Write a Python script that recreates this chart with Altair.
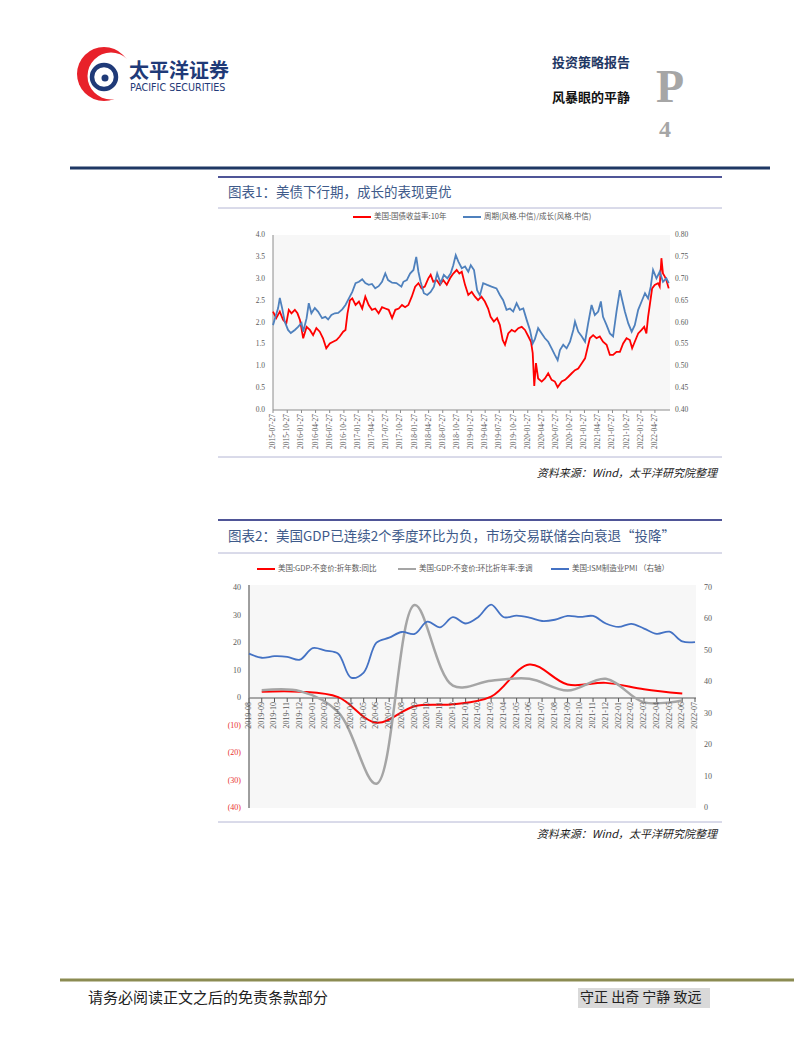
import altair as alt
import pandas as pd

# ---------------- Chart 1 data ----------------
yield_dates = [
    "2015-07-27", "2015-08-17", "2015-09-09", "2015-09-30", "2015-10-21", "2015-11-06", "2015-11-23", "2015-12-15",
    "2016-01-01", "2016-01-17", "2016-02-07", "2016-02-29", "2016-03-21", "2016-04-11", "2016-05-02", "2016-05-24",
    "2016-06-14", "2016-07-05", "2016-07-28", "2016-08-18", "2016-09-09", "2016-09-30", "2016-10-22", "2016-11-06",
    "2016-11-19", "2016-12-05", "2016-12-20", "2017-01-10", "2017-02-01", "2017-02-22", "2017-03-14", "2017-04-05",
    "2017-04-26", "2017-05-17", "2017-06-08", "2017-06-30", "2017-07-21", "2017-08-12", "2017-09-03", "2017-09-24",
    "2017-10-16", "2017-11-06", "2017-11-26", "2017-12-17", "2018-01-08", "2018-01-30", "2018-02-20", "2018-03-12",
    "2018-04-02", "2018-04-25", "2018-05-10", "2018-05-27", "2018-06-18", "2018-07-09", "2018-07-30", "2018-08-22",
    "2018-09-12", "2018-10-03", "2018-10-25", "2018-11-11", "2018-11-27", "2018-12-18", "2019-01-08", "2019-01-30",
    "2019-02-20", "2019-03-12", "2019-04-03", "2019-04-25", "2019-05-16", "2019-06-01", "2019-06-22", "2019-07-13",
    "2019-07-31", "2019-08-18", "2019-09-02", "2019-09-23", "2019-10-15", "2019-11-05", "2019-11-27", "2019-12-19",
    "2020-01-09", "2020-01-31", "2020-02-17", "2020-02-28", "2020-03-09", "2020-03-20", "2020-04-03", "2020-04-26",
    "2020-05-17", "2020-06-07", "2020-06-29", "2020-07-20", "2020-08-07", "2020-09-02", "2020-09-24", "2020-10-15",
    "2020-11-06", "2020-11-27", "2020-12-18", "2021-01-10", "2021-01-31", "2021-02-18", "2021-03-03", "2021-03-24",
    "2021-04-15", "2021-05-06", "2021-05-27", "2021-06-19", "2021-07-10", "2021-07-31", "2021-08-22", "2021-09-13",
    "2021-10-04", "2021-10-26", "2021-11-16", "2021-12-01", "2021-12-18", "2022-01-09", "2022-01-31", "2022-02-17",
    "2022-03-03", "2022-03-14", "2022-03-25", "2022-04-09", "2022-04-26", "2022-05-17", "2022-05-28", "2022-06-08",
    "2022-06-18", "2022-06-30", "2022-07-10", "2022-07-25",
]
yield_vals = [
    2.25, 2.10, 2.25, 2.06, 1.98, 2.29, 2.21, 2.29,
    2.21, 2.06, 1.64, 1.90, 1.83, 1.71, 1.87, 1.79,
    1.64, 1.41, 1.52, 1.56, 1.60, 1.68, 1.79, 1.83,
    2.21, 2.51, 2.55, 2.40, 2.48, 2.32, 2.59, 2.40,
    2.29, 2.32, 2.21, 2.35, 2.32, 2.29, 2.10, 2.29,
    2.32, 2.40, 2.35, 2.40, 2.59, 2.82, 2.90, 2.78,
    2.82, 3.01, 3.09, 2.93, 2.97, 2.86, 2.97, 2.86,
    3.01, 3.12, 3.20, 3.12, 3.16, 2.86, 2.63, 2.70,
    2.59, 2.51, 2.59, 2.48, 2.32, 2.13, 2.02, 2.10,
    1.94, 1.60, 1.49, 1.75, 1.83, 1.79, 1.87, 1.90,
    1.83, 1.68, 1.56, 1.30, 0.55, 1.07, 0.72, 0.65,
    0.72, 0.84, 0.69, 0.65, 0.52, 0.65, 0.69, 0.76,
    0.84, 0.91, 0.95, 1.07, 1.18, 1.45, 1.64, 1.71,
    1.64, 1.68, 1.56, 1.49, 1.26, 1.26, 1.33, 1.33,
    1.52, 1.64, 1.60, 1.41, 1.56, 1.75, 1.83, 1.90,
    1.75, 2.13, 2.40, 2.78, 2.86, 2.90, 2.82, 3.47,
    3.12, 3.05, 2.97, 2.78,
]
ratio_dates = [
    "2015-07-27", "2015-08-29", "2015-09-09", "2015-09-24", "2015-10-11", "2015-11-01", "2015-11-19", "2015-12-15",
    "2016-01-05", "2016-01-27", "2016-02-07", "2016-02-29", "2016-03-14", "2016-03-31", "2016-04-22", "2016-05-13",
    "2016-06-08", "2016-06-29", "2016-07-17", "2016-08-07", "2016-08-29", "2016-09-20", "2016-10-16", "2016-11-06",
    "2016-11-28", "2016-12-20", "2017-01-10", "2017-02-01", "2017-02-22", "2017-03-14", "2017-04-05", "2017-04-26",
    "2017-05-17", "2017-06-08", "2017-06-30", "2017-07-21", "2017-08-08", "2017-09-03", "2017-10-01", "2017-11-02",
    "2017-11-15", "2017-12-07", "2017-12-28", "2018-01-19", "2018-02-06", "2018-02-20", "2018-03-06", "2018-03-27",
    "2018-04-18", "2018-05-10", "2018-05-31", "2018-06-21", "2018-07-13", "2018-08-03", "2018-08-26", "2018-09-16",
    "2018-10-03", "2018-10-19", "2018-11-05", "2018-11-27", "2018-12-18", "2019-01-08", "2019-01-24", "2019-02-14",
    "2019-03-06", "2019-03-24", "2019-04-14", "2019-05-10", "2019-06-07", "2019-07-09", "2019-07-31", "2019-08-21",
    "2019-09-12", "2019-10-04", "2019-10-25", "2019-11-16", "2019-12-07", "2019-12-29", "2020-01-20", "2020-02-10",
    "2020-02-28", "2020-03-13", "2020-04-03", "2020-04-26", "2020-05-17", "2020-06-07", "2020-06-29", "2020-07-20",
    "2020-08-07", "2020-08-22", "2020-09-12", "2020-10-04", "2020-10-26", "2020-11-16", "2020-11-27", "2020-12-18",
    "2021-01-10", "2021-01-31", "2021-02-20", "2021-03-14", "2021-04-04", "2021-04-26", "2021-05-13", "2021-05-27",
    "2021-06-19", "2021-07-10", "2021-07-31", "2021-08-22", "2021-09-13", "2021-09-28", "2021-10-15", "2021-11-06",
    "2021-11-28", "2021-12-18", "2022-01-09", "2022-01-31", "2022-02-22", "2022-03-14", "2022-03-31", "2022-04-15",
    "2022-05-07", "2022-05-28", "2022-06-18", "2022-07-10", "2022-07-25",
]
ratio_vals = [
    0.594, 0.633, 0.656, 0.633, 0.602, 0.583, 0.576, 0.583, 0.590, 0.599,
    0.579, 0.610, 0.644, 0.621, 0.633, 0.625, 0.610, 0.613, 0.607, 0.617,
    0.621, 0.622, 0.630, 0.640, 0.655, 0.670, 0.690, 0.693, 0.699, 0.690,
    0.686, 0.688, 0.678, 0.683, 0.693, 0.712, 0.697, 0.691, 0.690, 0.682,
    0.693, 0.697, 0.712, 0.720, 0.750, 0.716, 0.693, 0.667, 0.663, 0.670,
    0.682, 0.712, 0.690, 0.709, 0.701, 0.712, 0.731, 0.754, 0.739, 0.724,
    0.728, 0.716, 0.731, 0.720, 0.674, 0.662, 0.690, 0.686, 0.682, 0.678,
    0.663, 0.651, 0.629, 0.632, 0.625, 0.644, 0.629, 0.632, 0.606, 0.583,
    0.552, 0.562, 0.587, 0.575, 0.564, 0.556, 0.541, 0.526, 0.514, 0.537,
    0.549, 0.541, 0.556, 0.583, 0.602, 0.579, 0.568, 0.556, 0.598, 0.640,
    0.617, 0.625, 0.648, 0.613, 0.594, 0.575, 0.568, 0.625, 0.674, 0.651,
    0.625, 0.598, 0.579, 0.594, 0.629, 0.648, 0.667, 0.655, 0.682, 0.720,
    0.701, 0.716, 0.693, 0.701, 0.690,
]
c1_dates = [
    "2015-07-27", "2015-10-27", "2016-01-27", "2016-04-27", "2016-07-27", "2016-10-27", "2017-01-27",
    "2017-04-27", "2017-07-27", "2017-10-27", "2018-01-27", "2018-04-27", "2018-07-27", "2018-10-27",
    "2019-01-27", "2019-04-27", "2019-07-27", "2019-10-27", "2020-01-27", "2020-04-27", "2020-07-27",
    "2020-10-27", "2021-01-27", "2021-04-27", "2021-07-27", "2021-10-27", "2022-01-27", "2022-04-27",
]
c1_left_ticks = [0.0, 0.5, 1.0, 1.5, 2.0, 2.5, 3.0, 3.5, 4.0]
c1_right_ticks = [0.40, 0.45, 0.50, 0.55, 0.60, 0.65, 0.70, 0.75, 0.80]
c1_domain = ["2015-07-27", "2022-07-27"]

# ---------------- Chart 2 data ----------------
c2_months = [
    "2019-08", "2019-09", "2019-10", "2019-11", "2019-12", "2020-01", "2020-02", "2020-03", "2020-04",
    "2020-05", "2020-06", "2020-07", "2020-08", "2020-09", "2020-10", "2020-11", "2020-12", "2021-01",
    "2021-02", "2021-03", "2021-04", "2021-05", "2021-06", "2021-07", "2021-08", "2021-09", "2021-10",
    "2021-11", "2021-12", "2022-01", "2022-02", "2022-03", "2022-04", "2022-05", "2022-06", "2022-07",
]
pmi_vals = [
    49.1, 47.8, 48.3, 48.1, 47.2, 50.9, 50.1, 49.1, 41.5,
    43.1, 52.6, 54.2, 56.0, 55.4, 59.3, 57.5, 60.7, 58.7,
    60.8, 64.7, 60.7, 61.2, 60.6, 59.5, 59.9, 61.1, 60.8,
    61.1, 58.7, 57.6, 58.6, 57.1, 55.4, 56.1, 53.0, 52.8,
]
gdp_months = ["2019-09", "2019-12", "2020-03", "2020-06", "2020-09", "2020-12",
              "2021-03", "2021-06", "2021-09", "2021-12", "2022-03", "2022-06"]
gdp_yoy = [2.3, 2.3, 0.3, -9.0, -3.0, -2.3, 0.5, 12.2, 4.9, 5.5, 3.2, 1.6]
gdp_qoq = [2.8, 2.5, -5.1, -31.2, 33.8, 4.5, 6.3, 7.0, 2.7, 7.0, -1.6, -0.9]
c2_left_ticks = [40, 30, 20, 10, 0, -10, -20, -30, -40]
c2_left_labels = ["40", "30", "20", "10", "0", "(10)", "(20)", "(30)", "(40)"]
c2_right_ticks = [0, 10, 20, 30, 40, 50, 60, 70]

# ---------------- helpers ----------------
CJK = "Noto Sans CJK SC"
SERIF = "Liberation Serif"
GREY = "#595959"
NAVY = "#1f3864"


def ms(s):
    return int(pd.Timestamp(s).value // 10**6)


one = pd.DataFrame({"k": [0]})


def hline(x1, x2, y, color, w):
    return alt.Chart(one).mark_rule(color=color, strokeWidth=w).encode(
        x=alt.value(x1), x2=alt.value(x2), y=alt.value(y))


def vline(x, y1, y2, color, w):
    return alt.Chart(one).mark_rule(color=color, strokeWidth=w).encode(
        x=alt.value(x), y=alt.value(y1), y2=alt.value(y2))


def box(x1, x2, y1, y2, color):
    return alt.Chart(one).mark_rect(color=color).encode(
        x=alt.value(x1), x2=alt.value(x2), y=alt.value(y1), y2=alt.value(y2))


def txt(s, x, y, size, color, font=CJK, align="left", weight="normal", style="normal"):
    return alt.Chart(one).mark_text(
        text=s, fontSize=size, color=color, font=font, align=align,
        baseline="middle", fontWeight=weight, fontStyle=style).encode(
        x=alt.value(x), y=alt.value(y))


def dot(x, y, r, color, filled=True, sw=0):
    return alt.Chart(one).mark_point(
        shape="circle", filled=filled, size=(2 * r) ** 2, color=color,
        opacity=1, strokeWidth=sw).encode(x=alt.value(x), y=alt.value(y))


layers = []

# ---------------- header ----------------
layers += [
    dot(96, 66, 27, "#e8212a"),
    dot(103, 68, 23.5, "#ffffff"),
    dot(96, 69, 12, "#1f3a78", filled=False, sw=4.5),
    dot(97, 70, 3.5, "#1f3a78"),
    txt("太平洋证券", 121, 64, 20, "#1f3a78", weight="bold"),
    txt("PACIFIC SECURITIES", 122, 80, 9.6, "#1f3a78", font="DejaVu Sans"),
    txt("投资策略报告", 544, 55, 13, NAVY, weight="bold"),
    txt("风暴眼的平静", 544, 90, 13, "#111111", weight="bold"),
    txt("P", 662, 80, 46, "#a6a6a6", font=SERIF, align="center", weight="bold"),
    txt("4", 657, 122, 24, "#a6a6a6", font=SERIF, align="center", weight="bold"),
    hline(62, 762, 160, NAVY, 3),
]

# ---------------- chart 1 frame ----------------
TITLE_C = "#3e5a8a"
layers += [
    hline(210, 714, 169, "#4f5597", 2),
    txt("图表1：美债下行期，成长的表现更优", 220, 185, 13.5, TITLE_C),
    hline(210, 714, 200, "#b4b6d4", 1),
    hline(210, 714, 449, "#b4b6d4", 1),
    txt("资料来源：Wind，太平洋研究院整理", 709, 466, 11, "#222222", align="right", style="italic"),
    box(265, 662, 227, 402, "#f7f7f7"),
    vline(265, 227, 402, "#8c8c8c", 1),
    hline(265, 662, 402, "#8c8c8c", 1),
    hline(345, 363, 209, "#ff0000", 2),
    txt("美国:国债收益率:10年", 366, 209, 7.5, GREY),
    hline(455, 473, 209, "#4f81bd", 2),
    txt("周期(风格.中信)/成长(风格.中信)", 476, 209, 7.5, GREY),
]

X1 = alt.Scale(domain=[ms(c1_domain[0]), ms(c1_domain[1])], range=[265, 661], nice=False, zero=False)
Y1L = alt.Scale(domain=[0, 4], range=[402, 227], nice=False, zero=False)
Y1R = alt.Scale(domain=[0.4, 0.8], range=[402, 227], nice=False, zero=False)

d_yield = pd.DataFrame({"t": [ms(d) for d in yield_dates], "v": yield_vals})
d_ratio = pd.DataFrame({"t": [ms(d) for d in ratio_dates], "v": ratio_vals})
d_c1x = pd.DataFrame({"t": [ms(d) for d in c1_dates], "lab": c1_dates})

layers += [
    alt.Chart(d_yield).mark_line(color="#ff0000", strokeWidth=1.8).encode(
        x=alt.X("t:Q", scale=X1, axis=None), y=alt.Y("v:Q", scale=Y1L, axis=None)),
    alt.Chart(d_ratio).mark_line(color="#4f81bd", strokeWidth=1.8).encode(
        x=alt.X("t:Q", scale=X1, axis=None), y=alt.Y("v:Q", scale=Y1R, axis=None)),
    alt.Chart(d_c1x).mark_rule(color="#8c8c8c", strokeWidth=1).encode(
        x=alt.X("t:Q", scale=X1, axis=None), y=alt.value(402), y2=alt.value(405)),
    alt.Chart(d_c1x).mark_text(angle=270, align="right", baseline="middle", fontSize=7.5,
                               font=SERIF, color=GREY).encode(
        x=alt.X("t:Q", scale=X1, axis=None), y=alt.value(406), text="lab:N"),
    alt.Chart(pd.DataFrame({"v": c1_left_ticks})).mark_text(
        align="right", baseline="middle", fontSize=7.5, font=SERIF, color=GREY).encode(
        x=alt.value(257), y=alt.Y("v:Q", scale=Y1L, axis=None), text=alt.Text("v:Q", format=".1f")),
    alt.Chart(pd.DataFrame({"v": c1_right_ticks})).mark_text(
        align="left", baseline="middle", fontSize=7.5, font=SERIF, color=GREY).encode(
        x=alt.value(667), y=alt.Y("v:Q", scale=Y1R, axis=None), text=alt.Text("v:Q", format=".2f")),
]

# ---------------- chart 2 frame ----------------
layers += [
    hline(210, 714, 512, "#4f5597", 2),
    txt("图表2：美国GDP已连续2个季度环比为负，市场交易联储会向衰退“投降”", 220, 529, 13.5, TITLE_C),
    hline(210, 714, 545, "#b4b6d4", 1),
    hline(210, 714, 814, "#b4b6d4", 1),
    txt("资料来源：Wind，太平洋研究院整理", 709, 827, 11, "#222222", align="right", style="italic"),
    box(241, 688, 577, 800, "#f7f7f7"),
    hline(249, 267, 561, "#ff0000", 2),
    txt("美国:GDP:不变价:折年数:同比", 270, 561, 7.5, GREY),
    hline(390, 408, 561, "#a5a5a5", 2),
    txt("美国:GDP:不变价:环比折年率:季调", 411, 561, 7.5, GREY),
    hline(543, 561, 561, "#4472c4", 2),
    txt("美国:ISM制造业PMI （右轴）", 564, 561, 7.5, GREY),
]

X2 = alt.Scale(type="point", domain=c2_months, range=[241, 687], padding=0)
Y2L = alt.Scale(domain=[-40, 40], range=[800, 580], nice=False, zero=False)
Y2R = alt.Scale(domain=[0, 70], range=[800, 580], nice=False, zero=False)

d_pmi = pd.DataFrame({"m": c2_months, "v": pmi_vals})
d_yoy = pd.DataFrame({"m": gdp_months, "v": gdp_yoy})
d_qoq = pd.DataFrame({"m": gdp_months, "v": gdp_qoq})
d_c2x = pd.DataFrame({"m": c2_months})

layers += [
    alt.Chart(pd.DataFrame({"v": [0]})).mark_rule(color="#595959", strokeWidth=1).encode(
        x=alt.value(241), x2=alt.value(688), y=alt.Y("v:Q", scale=Y2L, axis=None)),
    alt.Chart(d_c2x).mark_rule(color="#595959", strokeWidth=1).encode(
        x=alt.X("m:N", scale=X2, axis=None), y=alt.value(690), y2=alt.value(694)),
    vline(241, 577, 800, "#7f7f7f", 1.5),
    alt.Chart(d_yoy).mark_line(color="#ff0000", strokeWidth=2, interpolate="catmull-rom").encode(
        x=alt.X("m:N", scale=X2, axis=None), y=alt.Y("v:Q", scale=Y2L, axis=None)),
    alt.Chart(d_qoq).mark_line(color="#a5a5a5", strokeWidth=2.5, interpolate="catmull-rom").encode(
        x=alt.X("m:N", scale=X2, axis=None), y=alt.Y("v:Q", scale=Y2L, axis=None)),
    alt.Chart(d_pmi).mark_line(color="#4472c4", strokeWidth=1.8, interpolate="catmull-rom").encode(
        x=alt.X("m:N", scale=X2, axis=None), y=alt.Y("v:Q", scale=Y2R, axis=None)),
    alt.Chart(d_c2x).mark_text(angle=270, align="right", baseline="middle", fontSize=8,
                               font=SERIF, color=GREY).encode(
        x=alt.X("m:N", scale=X2, axis=None), y=alt.value(694), text="m:N"),
    alt.Chart(pd.DataFrame({"v": c2_left_ticks, "lab": c2_left_labels})).mark_text(
        align="right", baseline="middle", fontSize=8, font=SERIF).encode(
        x=alt.value(233), y=alt.Y("v:Q", scale=Y2L, axis=None), text="lab:N",
        color=alt.condition("datum.v < 0", alt.value("#e8312f"), alt.value(GREY))),
    alt.Chart(pd.DataFrame({"v": c2_right_ticks})).mark_text(
        align="left", baseline="middle", fontSize=8, font=SERIF, color=GREY).encode(
        x=alt.value(696), y=alt.Y("v:Q", scale=Y2R, axis=None), text="v:Q"),
]

# ---------------- footer ----------------
layers += [
    hline(52, 786, 972, "#8b8b52", 3),
    txt("请务必阅读正文之后的免责条款部分", 80, 990, 15, "#222222"),
    box(570, 702, 980, 1000, "#d9d9d9"),
    txt("守正 出奇 宁静 致远", 572, 990, 14, "#222222"),
]

chart = alt.layer(*layers).resolve_scale(
    x="independent", y="independent"
).properties(
    width=786, height=1021, autosize=alt.AutoSizeParams(type="none"), padding=0
).configure_view(strokeWidth=0)

chart.save("out.html", embed_options={"renderer": "svg", "actions": False})
